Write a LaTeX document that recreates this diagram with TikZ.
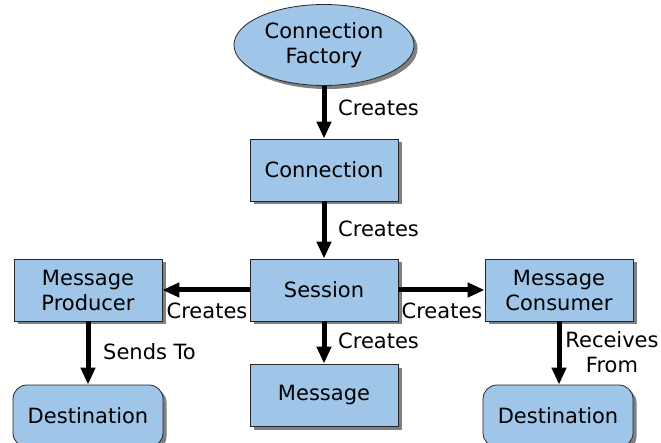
\documentclass[tikz,border=0pt]{standalone}
\usepackage{fontspec}
\setmainfont{DejaVu Sans}
\usetikzlibrary{shapes.geometric,shadows,arrows.meta}
\definecolor{boxblue}{RGB}{159,197,232}
\begin{document}
\begin{tikzpicture}[x=1pt,y=-1pt,
  every node/.style={font=\fontsize{21}{25}\selectfont},
  shd/.style={drop shadow={shadow xshift=3.5pt,shadow yshift=-3.5pt,fill=black!50,opacity=1}},
  box/.style={draw=black!85,line width=0.8pt,fill=boxblue,minimum width=148pt,minimum height=62pt,inner sep=0pt,align=center,shd},
  rbox/.style={box,rounded corners=14pt,minimum width=150pt},
  oval/.style={ellipse,draw=black!85,line width=0.8pt,fill=boxblue,minimum width=180pt,minimum height=81pt,inner sep=0pt,align=center,shd},
  arr/.style={line width=5pt,-{Triangle[length=17pt,width=14pt]}},
  lbl/.style={inner sep=0pt,align=center}]
\useasboundingbox (0,0) rectangle (661,443);
\node[oval] (cf) at (324,45) {Connection\\Factory};
\node[box] (conn) at (324,170) {Connection};
\node[box] (sess) at (324,290) {Session};
\node[box] (msg) at (324,395) {Message};
\node[box] (prod) at (88,290) {Message\\Producer};
\node[box] (cons) at (559,290) {Message\\Consumer};
\node[rbox] (dl) at (88,416) {Destination};
\node[rbox] (dr) at (558,416) {Destination};
\draw[arr] (cf.south) -- (conn.north);
\draw[arr] (conn.south) -- (sess.north);
\draw[arr] (sess.south) -- (msg.north);
\draw[arr] (sess.west) -- (prod.east);
\draw[arr] (sess.east) -- (cons.west);
\draw[arr] (prod.south) -- (dl.north);
\draw[arr] (cons.south) -- (cons.south |- dr.north);
\node[lbl,anchor=west] (l1) at (338,108) {Creates};
\node[lbl,anchor=west] (l2) at (338,229) {Creates};
\node[lbl,anchor=west] (l3) at (338,341) {Creates};
\node[lbl] (l4) at (207,311) {Creates};
\node[lbl] (l5) at (442,311) {Creates};
\node[lbl,anchor=west] (l6) at (103,352) {Sends To};
\node[lbl] (l7) at (612,352) {Receives\\From};
\end{tikzpicture}
\end{document}
